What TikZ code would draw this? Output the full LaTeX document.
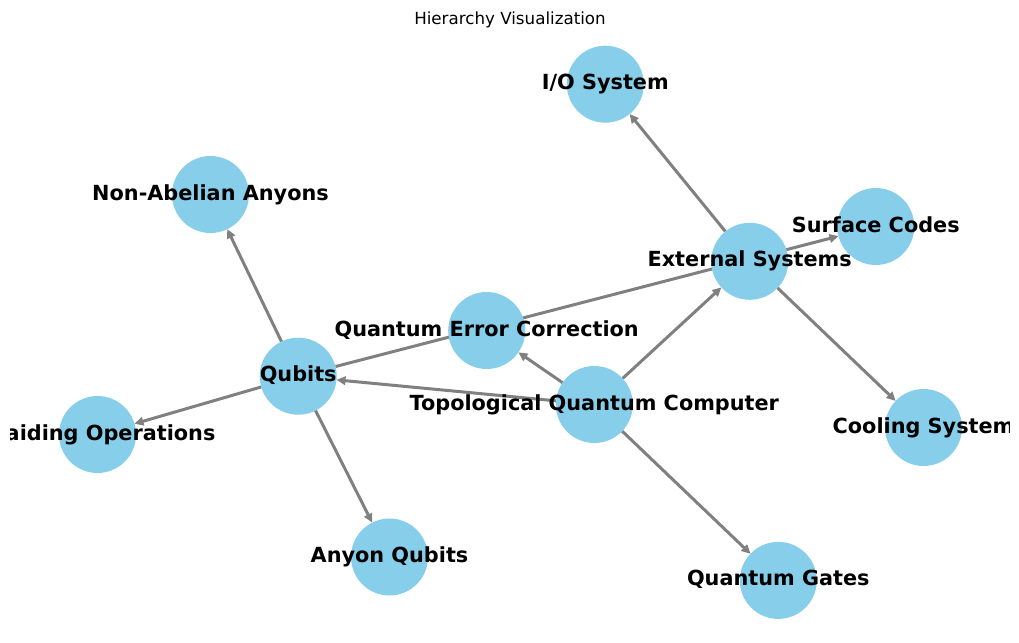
\documentclass[tikz,border=0pt]{standalone}
\usepackage{fontspec}
\setmainfont{DejaVu Sans}
\usetikzlibrary{arrows.meta}
\pgfdeclarelayer{edges}
\pgfsetlayers{edges,main}
\definecolor{skyblue}{HTML}{87CEEB}
\definecolor{edgegray}{HTML}{808080}
\tikzset{
  vert/.style={circle,fill=skyblue,minimum size=77pt,inner sep=0pt,outer sep=0pt},
  lbl/.style={font=\fontsize{20.8}{24}\selectfont\bfseries,text=black,inner sep=0pt,anchor=base,yshift=-5.5pt},
  edge/.style={draw=edgegray,line width=3pt,-{Triangle[length=9pt,width=8.5pt]}},
}
\begin{document}
\begin{tikzpicture}[x=1pt,y=-1pt]
\useasboundingbox (0,0) rectangle (1019,642);
\node[font=\fontsize{16.7}{20}\selectfont,anchor=base] (title) at (510,24.3) {Hierarchy Visualization};
% vertices
\node[vert] (io) at (605.3,84.2) {};
\node[vert] (naa) at (210.5,194.5) {};
\node[vert] (sc) at (875.8,226.5) {};
\node[vert] (ext) at (749.7,261.3) {};
\node[vert] (qec) at (486.7,330.5) {};
\node[vert] (qub) at (298.2,376.2) {};
\node[vert] (tqc) at (594.3,404.5) {};
\node[vert] (brd) at (97.5,434.5) {};
\node[vert] (cool) at (923.5,427.5) {};
\node[vert] (aq) at (389.5,557) {};
\node[vert] (qg) at (778.3,580.4) {};
% edges
\begin{pgfonlayer}{edges}
\draw[edge] (tqc) -- (qub);
\draw[edge] (tqc) -- (qec);
\draw[edge] (tqc) -- (ext);
\draw[edge] (tqc) -- (qg);
\draw[edge] (qub) -- (naa);
\draw[edge] (qub) -- (brd);
\draw[edge] (qub) -- (aq);
\draw[edge] (qub) -- (sc);
\draw[edge] (ext) -- (io);
\draw[edge] (ext) -- (cool);
\end{pgfonlayer}
% labels
\begin{scope}
\clip (10,0) rectangle (1009,642);
\node[lbl] (lio) at (io) {I/O System};
\node[lbl] (lnaa) at (naa) {Non-Abelian Anyons};
\node[lbl] (lsc) at (sc) {Surface Codes};
\node[lbl] (lext) at (ext) {External Systems};
\node[lbl] (lqec) at (qec) {Quantum Error Correction};
\node[lbl] (lqub) at (qub) {Qubits};
\node[lbl] (ltqc) at (tqc) {Topological Quantum Computer};
\node[lbl] (lbrd) at (brd) {Braiding Operations};
\node[lbl] (lcool) at (cool) {Cooling System};
\node[lbl] (laq) at (aq) {Anyon Qubits};
\node[lbl] (lqg) at (qg) {Quantum Gates};
\end{scope}
\end{tikzpicture}
\end{document}
